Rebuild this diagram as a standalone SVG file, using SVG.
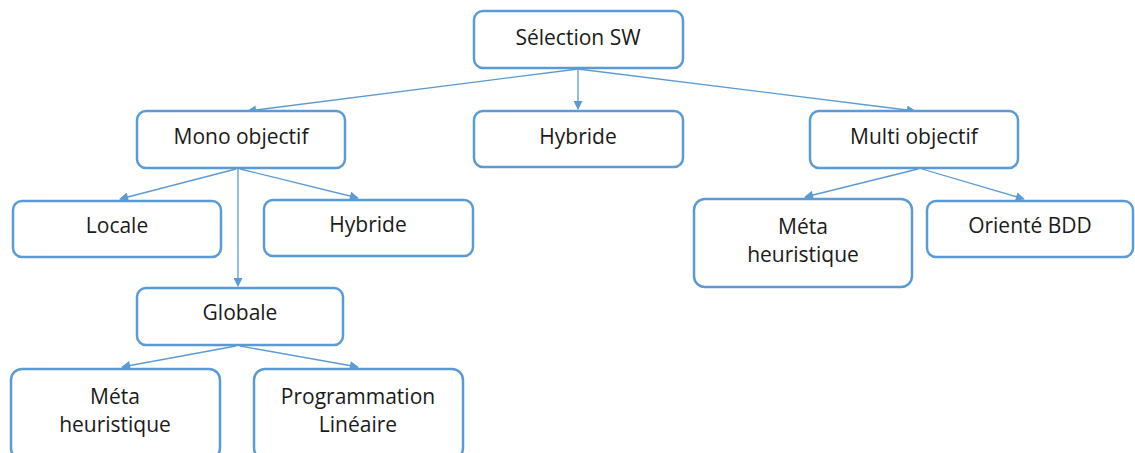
<svg xmlns="http://www.w3.org/2000/svg" width="1135" height="453" viewBox="0 0 1135 453">
  <defs>
    <marker id="arrow" viewBox="0 0 10 10" refX="9" refY="5" markerWidth="11" markerHeight="9" markerUnits="userSpaceOnUse" orient="auto">
      <path d="M0,0 L10,5 L0,10 z" fill="#5b9bd5"/>
    </marker>
    <style>
      .box { fill: #ffffff; stroke: #5b9bd5; stroke-width: 2.5; }
      .lbl { font-family: "Open Sans", "Liberation Sans", sans-serif; font-size: 21px; fill: #1a1a1a; text-anchor: middle; dominant-baseline: central; }
      .edge { stroke: #5b9bd5; stroke-width: 1.3; fill: none; marker-end: url(#arrow); }
    </style>
  </defs>
  <rect width="1135" height="453" fill="#ffffff"/>

  <g id="connectors">
    <line class="edge" x1="578" y1="69" x2="248" y2="111"/>
    <line class="edge" x1="578" y1="69" x2="578" y2="109"/>
    <line class="edge" x1="578" y1="69" x2="915" y2="111"/>
    <line class="edge" x1="236" y1="169" x2="120" y2="199"/>
    <line class="edge" x1="240" y1="169" x2="358" y2="198"/>
    <line class="edge" x1="238" y1="169" x2="238" y2="286"/>
    <line class="edge" x1="236" y1="346" x2="122" y2="367"/>
    <line class="edge" x1="240" y1="346" x2="358" y2="367"/>
    <line class="edge" x1="918" y1="169" x2="805" y2="197"/>
    <line class="edge" x1="922" y1="169" x2="1024" y2="199"/>
  </g>

  <g id="selection-sw">
    <rect class="box" x="474" y="11" width="209" height="57" rx="9"/>
    <text class="lbl" x="578" y="37">Sélection SW</text>
  </g>
  <g id="mono-objectif">
    <rect class="box" x="137" y="111" width="208" height="57" rx="9"/>
    <text class="lbl" x="241" y="136">Mono objectif</text>
  </g>
  <g id="hybride-top">
    <rect class="box" x="474" y="111" width="209" height="56" rx="9"/>
    <text class="lbl" x="578" y="136">Hybride</text>
  </g>
  <g id="multi-objectif">
    <rect class="box" x="810" y="111" width="208" height="57" rx="9"/>
    <text class="lbl" x="914" y="136">Multi objectif</text>
  </g>
  <g id="locale">
    <rect class="box" x="13" y="201" width="208" height="56" rx="9"/>
    <text class="lbl" x="117" y="225">Locale</text>
  </g>
  <g id="hybride-mono">
    <rect class="box" x="264" y="200" width="209" height="56" rx="9"/>
    <text class="lbl" x="368" y="224">Hybride</text>
  </g>
  <g id="globale">
    <rect class="box" x="137" y="288" width="206" height="57" rx="9"/>
    <text class="lbl" x="240" y="312">Globale</text>
  </g>
  <g id="meta-heuristique-globale">
    <rect class="box" x="11" y="369" width="209" height="90" rx="11"/>
    <text class="lbl" x="115" y="396">Méta</text>
    <text class="lbl" x="115" y="424">heuristique</text>
  </g>
  <g id="programmation-lineaire">
    <rect class="box" x="254" y="369" width="209" height="90" rx="11"/>
    <text class="lbl" x="358" y="396">Programmation</text>
    <text class="lbl" x="358" y="424">Linéaire</text>
  </g>
  <g id="meta-heuristique-multi">
    <rect class="box" x="694" y="199" width="218" height="88" rx="11"/>
    <text class="lbl" x="803" y="226">Méta</text>
    <text class="lbl" x="803" y="254">heuristique</text>
  </g>
  <g id="oriente-bdd">
    <rect class="box" x="927" y="201" width="206" height="56" rx="9"/>
    <text class="lbl" x="1030" y="225">Orienté BDD</text>
  </g>
</svg>
